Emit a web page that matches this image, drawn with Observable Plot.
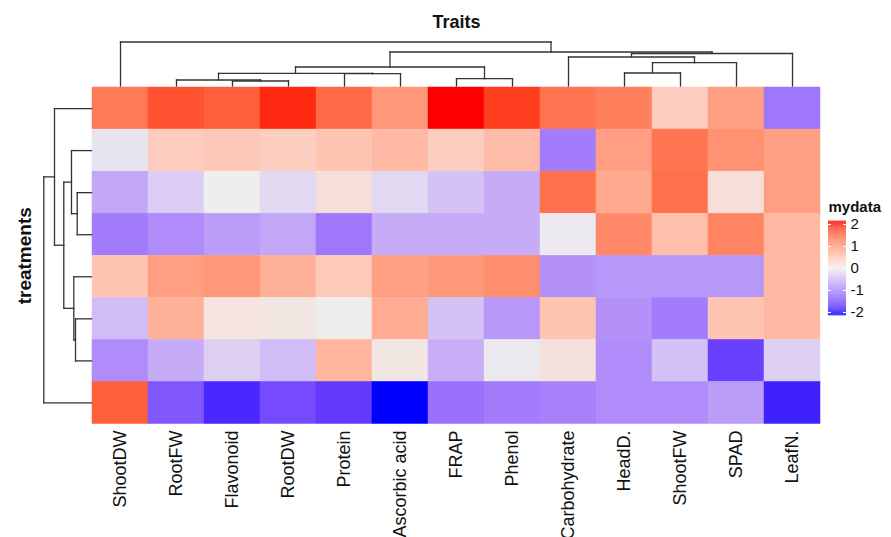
<!DOCTYPE html>
<html><head><meta charset="utf-8">
<script src="https://cdn.jsdelivr.net/npm/d3@7"></script>
<script src="https://cdn.jsdelivr.net/npm/@observablehq/plot@0.6"></script>
<style>
body{margin:0;background:#fff;}
#wrap{position:relative;width:891px;height:537px;overflow:hidden;font-family:"Liberation Sans",Arial,sans-serif;}
#legend{position:absolute;left:818px;top:190px;}
#chart{position:absolute;left:0;top:0;}
</style></head><body><div id="wrap"><div id="chart"></div><div id="legend"></div></div>
<script>
// ---- data ----
const traits = ["ShootDW","RootFW","Flavonoid","RootDW","Protein","Ascorbic acid","FRAP","Phenol","Carbohydrate","HeadD.","ShootFW","SPAD","LeafN."];
const treatments = ["T1","T2","T3","T4","T5","T6","T7","T8"];
const row1 = [1.3,1.65,1.55,1.9,1.45,1.0,2.1,1.8,1.35,1.25,0.4,0.9,-1.1];
const row2 = [-0.1,0.4,0.45,0.37,0.5,0.62,0.38,0.58,-1.05,0.92,1.35,1.05,0.9];
const row3 = [-0.65,-0.3,0.0,-0.2,0.18,-0.2,-0.4,-0.6,1.4,0.8,1.4,0.18,0.93];
const row4 = [-1.05,-0.9,-0.75,-0.65,-1.1,-0.6,-0.6,-0.6,-0.05,1.15,0.55,1.2,0.63];
const row5 = [0.5,0.93,1.0,0.72,0.43,0.9,1.0,1.1,-0.85,-0.8,-0.8,-0.8,0.63];
const row6 = [-0.45,0.72,0.13,0.09,0.02,0.77,-0.4,-0.8,0.5,-0.85,-1.05,0.5,0.62];
const row7 = [-0.9,-0.6,-0.28,-0.45,0.67,0.1,-0.58,-0.05,0.16,-0.9,-0.4,-1.6,-0.28];
const row8 = [1.55,-1.4,-1.8,-1.5,-1.65,-2.1,-1.15,-1.05,-1.0,-0.9,-0.9,-0.75,-1.85];
const rows = [row1,row2,row3,row4,row5,row6,row7,row8];
// hclust-style merges (negative = leaf, positive = earlier merge) and heights
const colMerge = [[-3,-4],[-2,1],[-7,-8],[-10,-11],[-5,-6],[2,5],[6,3],[4,-12],[-9,8],[9,-13],[7,10],[-1,11]];
const colHeight = [0.5,0.6,0.73,1.3,1.23,1.27,1.9,2.33,2.9,3.25,3.4,4.4];
const rowMerge = [[-3,-4],[-6,-7],[-5,2],[-2,1],[4,3],[-1,5],[6,-8]];
const rowHeight = [1.43,1.6,1.77,2.0,2.77,3.7,4.77];
const legendTicks = [-2,-1,0,1,2];

// ---- layout ----
const X0 = 92, X1 = 820, Y0 = 87, Y1 = 423.5;
const colW = (X1 - X0) / traits.length, rowH = (Y1 - Y0) / treatments.length;
const PX_PER_H = 10;
const hToY = h => -(1.5 + h * PX_PER_H) / rowH;
const hToX = h => -(1 + h * PX_PER_H) / colW;

const cells = rows.flatMap((r, ri) => r.map((v, ci) => ({r: ri, c: ci, v, trait: traits[ci], treatment: treatments[ri]})));

function dendro(merge, heights) {
  const pos = [], segs = [];
  const P = c => c < 0 ? [-c - 0.5, 0] : [pos[c - 1], heights[c - 1]];
  merge.forEach(([a, b], i) => {
    const [pa, ha] = P(a), [pb, hb] = P(b), h = heights[i];
    pos[i] = (pa + pb) / 2;
    segs.push({p1: pa, h1: ha, p2: pa, h2: h}, {p1: pb, h1: hb, p2: pb, h2: h}, {p1: pa, h1: h, p2: pb, h2: h});
  });
  return segs;
}
const topSegs = dendro(colMerge, colHeight);
const leftSegs = dendro(rowMerge, rowHeight);

const color = {type: "linear", domain: [-2, 0, 2], range: ["#0000ff", "#eeeeee", "#ff0000"], interpolate: "lab", clamp: true};
const font = "Liberation Sans, Arial, sans-serif";

const chart = Plot.plot({
  width: 891, height: 537, margin: 0,
  style: {background: "#fff", fontFamily: font},
  x: {domain: [0, 13], range: [X0, X1], axis: null},
  y: {domain: [0, 8], range: [Y0, Y1], axis: null},
  color,
  marks: [
    Plot.rect(cells, {x1: "c", x2: d => d.c + 1, y1: "r", y2: d => d.r + 1, fill: "v", stroke: "v", strokeWidth: 0.5}),
    Plot.link(topSegs, {x1: "p1", x2: "p2", y1: d => hToY(d.h1), y2: d => hToY(d.h2), stroke: "#333", strokeWidth: 1.3, strokeLinecap: "square"}),
    Plot.link(leftSegs, {y1: "p1", y2: "p2", x1: d => hToX(d.h1), x2: d => hToX(d.h2), stroke: "#333", strokeWidth: 1.3, strokeLinecap: "square"}),
    Plot.text(traits, {x: (d, i) => i + 0.5, y: 8, text: d => d, rotate: -90, textAnchor: "end", lineAnchor: "middle", dy: 6.5, fontSize: 18, fill: "#111"}),
    Plot.text(["Traits"], {x: 6.5, y: (22 - Y0) / rowH, text: d => d, fontSize: 18, fontWeight: "bold", fill: "#111"}),
    Plot.text(["treatments"], {x: (24 - X0) / colW, y: 4, text: d => d, rotate: -90, fontSize: 19, fontWeight: "bold", fill: "#111"})
  ]
});
document.getElementById("chart").append(chart);

const legend = Plot.plot({
  width: 73, height: 140, margin: 0,
  style: {background: "transparent", fontFamily: font},
  x: {domain: [0, 1], range: [10, 28], axis: null},
  y: {domain: [-2, 2], range: [122, 34], axis: null},
  color,
  marks: [
    Plot.rect(d3.range(-2.15, 2.15, 0.02), {x1: 0, x2: 1, y1: d => d, y2: d => d + 0.022, fill: d => d + 0.01}),
    Plot.ruleY(legendTicks, {x1: 0, x2: 0.17, stroke: "white", strokeWidth: 1}),
    Plot.ruleY(legendTicks, {x1: 0.83, x2: 1, stroke: "white", strokeWidth: 1}),
    Plot.text(legendTicks, {x: 1, y: d => d, text: d => String(d), textAnchor: "start", dx: 4, fontSize: 15, fill: "#111"}),
    Plot.text(["mydata"], {frameAnchor: "top-left", dx: 10, dy: 17, text: d => d, textAnchor: "start", lineAnchor: "middle", fontSize: 15, fontWeight: "bold", fill: "#111"})
  ]
});
document.getElementById("legend").append(legend);
</script></body></html>
